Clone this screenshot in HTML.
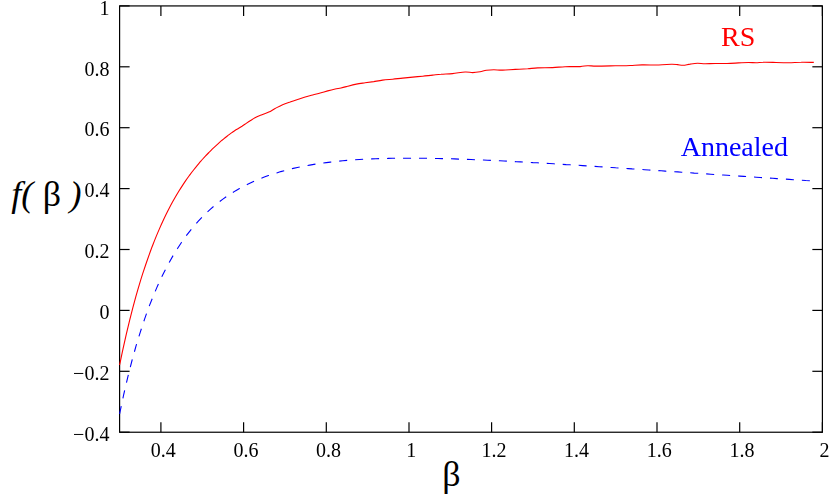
<!DOCTYPE html>
<html><head><meta charset="utf-8"><title>f(beta)</title>
<style>
html,body{margin:0;padding:0;background:#fff;}
body{width:830px;height:497px;overflow:hidden;font-family:"Liberation Serif",serif;}
svg{display:block;}
text{font-family:"Liberation Serif",serif;}
</style></head><body>
<svg width="830" height="497" viewBox="0 0 830 497">
<defs><filter id="id" x="-5%" y="-5%" width="110%" height="110%" color-interpolation-filters="sRGB"><feOffset dx="0" dy="0"/></filter></defs>
<rect x="0" y="0" width="830" height="497" fill="#fff"/>
<g stroke="#000" stroke-width="1.2" fill="none" stroke-linecap="butt">
<rect x="119.6" y="5.93" width="702.8" height="426.3"/>
<line x1="160.9" y1="432.2" x2="160.9" y2="422.2"/>
<line x1="160.9" y1="5.93" x2="160.9" y2="15.93"/>
<line x1="243.6" y1="432.2" x2="243.6" y2="422.2"/>
<line x1="243.6" y1="5.93" x2="243.6" y2="15.93"/>
<line x1="326.3" y1="432.2" x2="326.3" y2="422.2"/>
<line x1="326.3" y1="5.93" x2="326.3" y2="15.93"/>
<line x1="409.0" y1="432.2" x2="409.0" y2="422.2"/>
<line x1="409.0" y1="5.93" x2="409.0" y2="15.93"/>
<line x1="491.6" y1="432.2" x2="491.6" y2="422.2"/>
<line x1="491.6" y1="5.93" x2="491.6" y2="15.93"/>
<line x1="574.3" y1="432.2" x2="574.3" y2="422.2"/>
<line x1="574.3" y1="5.93" x2="574.3" y2="15.93"/>
<line x1="657.0" y1="432.2" x2="657.0" y2="422.2"/>
<line x1="657.0" y1="5.93" x2="657.0" y2="15.93"/>
<line x1="739.7" y1="432.2" x2="739.7" y2="422.2"/>
<line x1="739.7" y1="5.93" x2="739.7" y2="15.93"/>
<line x1="822.4" y1="432.2" x2="822.4" y2="422.2"/>
<line x1="822.4" y1="5.93" x2="822.4" y2="15.93"/>
<line x1="119.6" y1="5.9" x2="129.6" y2="5.9"/>
<line x1="822.35" y1="5.9" x2="812.35" y2="5.9"/>
<line x1="119.6" y1="66.8" x2="129.6" y2="66.8"/>
<line x1="822.35" y1="66.8" x2="812.35" y2="66.8"/>
<line x1="119.6" y1="127.7" x2="129.6" y2="127.7"/>
<line x1="822.35" y1="127.7" x2="812.35" y2="127.7"/>
<line x1="119.6" y1="188.6" x2="129.6" y2="188.6"/>
<line x1="822.35" y1="188.6" x2="812.35" y2="188.6"/>
<line x1="119.6" y1="249.5" x2="129.6" y2="249.5"/>
<line x1="822.35" y1="249.5" x2="812.35" y2="249.5"/>
<line x1="119.6" y1="310.4" x2="129.6" y2="310.4"/>
<line x1="822.35" y1="310.4" x2="812.35" y2="310.4"/>
<line x1="119.6" y1="371.3" x2="129.6" y2="371.3"/>
<line x1="822.35" y1="371.3" x2="812.35" y2="371.3"/>
<line x1="119.6" y1="432.2" x2="129.6" y2="432.2"/>
<line x1="822.35" y1="432.2" x2="812.35" y2="432.2"/>
</g>
<path d="M119.6,365.0 C120.2,362.4 121.8,354.4 122.9,349.3 C124.0,344.3 125.1,339.4 126.2,334.6 C127.3,329.9 128.4,325.3 129.5,320.8 C130.6,316.3 131.7,312.0 132.8,307.8 C133.9,303.7 135.0,299.6 136.1,295.7 C137.2,291.7 138.3,288.0 139.4,284.3 C140.5,280.6 141.6,277.0 142.7,273.6 C143.9,270.1 145.0,266.8 146.1,263.5 C147.2,260.3 148.3,257.2 149.4,254.1 C150.5,251.1 151.6,248.1 152.7,245.3 C153.8,242.4 154.9,239.6 156.0,236.9 C157.1,234.2 158.2,231.6 159.3,229.1 C160.4,226.6 161.5,224.1 162.6,221.8 C163.7,219.4 164.8,217.1 165.9,214.8 C167.0,212.6 168.1,210.4 169.2,208.3 C170.3,206.2 171.4,204.1 172.5,202.1 C173.6,200.1 174.7,198.2 175.8,196.3 C176.9,194.4 178.0,192.6 179.1,190.8 C180.2,189.0 181.3,187.3 182.4,185.6 C183.5,183.9 184.6,182.2 185.7,180.6 C186.8,179.0 187.9,177.5 189.0,176.0 C190.2,174.4 191.3,173.0 192.4,171.5 C193.5,170.1 194.6,168.7 195.7,167.3 C196.8,165.9 197.9,164.6 199.0,163.3 C200.1,162.0 201.2,160.8 202.3,159.5 C203.4,158.3 204.5,157.1 205.6,155.9 C206.7,154.7 207.8,153.6 208.9,152.5 C210.0,151.3 211.1,150.3 212.2,149.2 C213.3,148.1 214.4,147.1 215.5,146.1 C216.6,145.1 217.7,144.1 218.8,143.1 C219.9,142.1 221.0,141.2 222.1,140.2 C223.2,139.3 224.3,138.4 225.4,137.5 C226.5,136.6 227.6,135.8 228.7,134.9 C229.8,134.1 230.9,133.2 232.0,132.5 C233.1,131.7 234.2,130.9 235.3,130.2 C236.4,129.5 237.6,129.0 238.7,128.3 C239.8,127.6 240.9,126.9 242.0,126.2 C243.1,125.4 243.1,125.4 245.3,124.0 C247.4,122.6 252.3,119.3 255.0,117.8 C257.7,116.3 259.0,116.0 261.3,115.0 C263.6,114.0 266.5,113.2 268.8,112.1 C271.1,111.0 272.8,109.7 275.1,108.5 C277.4,107.3 280.1,105.8 282.6,104.7 C285.1,103.6 287.6,102.9 290.1,102.1 C292.6,101.2 295.1,100.4 297.6,99.6 C300.1,98.8 302.7,97.8 305.2,97.0 C307.7,96.2 310.2,95.7 312.7,95.0 C315.2,94.3 317.7,93.7 320.2,93.0 C322.7,92.3 325.2,91.6 327.7,90.9 C330.2,90.2 333.0,89.5 335.2,89.0 C337.4,88.5 338.9,88.5 341.0,88.0 C343.1,87.5 344.9,87.0 347.5,86.3 C350.1,85.6 353.4,84.7 356.3,84.1 C359.2,83.5 362.2,83.2 365.1,82.8 C368.0,82.4 370.9,82.0 373.8,81.6 C376.7,81.1 379.5,80.5 382.6,80.1 C385.7,79.7 389.2,79.5 392.6,79.2 C396.0,78.9 399.4,78.4 402.7,78.1 C406.0,77.8 409.4,77.4 412.7,77.1 C416.0,76.8 419.4,76.5 422.7,76.2 C426.0,75.9 429.6,75.4 432.7,75.1 C435.8,74.8 437.7,74.5 441.0,74.3 C444.3,74.0 448.5,74.0 452.5,73.6 C456.5,73.2 461.8,72.2 465.1,72.0 C468.5,71.8 470.1,72.6 472.6,72.6 C475.1,72.6 477.8,72.2 480.1,71.8 C482.4,71.4 484.1,70.6 486.4,70.3 C488.7,70.0 491.2,69.8 493.9,69.8 C496.6,69.8 499.1,70.2 502.7,70.1 C506.2,70.0 511.0,69.6 515.2,69.4 C519.4,69.2 524.0,69.0 527.7,68.8 C531.5,68.5 533.6,68.1 537.7,67.9 C541.8,67.7 547.9,67.8 552.5,67.6 C557.1,67.4 560.5,66.9 565.1,66.7 C569.7,66.5 576.4,66.8 580.1,66.6 C583.9,66.4 584.9,65.8 587.6,65.7 C590.3,65.6 591.8,66.1 596.4,66.1 C601.0,66.1 609.6,65.9 615.2,65.8 C620.8,65.7 625.7,65.7 630.2,65.5 C634.7,65.3 637.2,65.0 642.0,64.9 C646.8,64.8 653.9,65.1 658.8,65.0 C663.7,64.9 668.2,64.3 671.3,64.2 C674.4,64.1 675.6,64.4 677.6,64.6 C679.6,64.8 681.1,65.4 683.2,65.3 C685.3,65.2 687.7,64.4 690.1,64.1 C692.5,63.7 695.1,63.2 697.6,63.2 C700.1,63.2 702.3,63.8 705.2,63.8 C708.1,63.8 711.6,63.5 715.2,63.5 C718.8,63.5 723.1,63.6 727.0,63.5 C730.9,63.4 734.9,63.1 738.5,62.9 C742.1,62.7 745.7,62.5 748.6,62.5 C751.5,62.5 753.6,62.8 756.1,62.8 C758.6,62.8 760.3,62.3 763.6,62.3 C766.9,62.2 771.9,62.4 776.1,62.5 C780.3,62.6 784.5,62.7 788.7,62.7 C792.9,62.7 797.0,62.3 801.2,62.3 C805.4,62.2 811.7,62.4 813.8,62.4" fill="none" stroke="#ff0000" stroke-width="1.1" stroke-linejoin="round"/>
<path d="M119.6,413.9 L123.7,394.5 L127.9,376.7 L132.0,360.5 L136.1,345.7 L140.3,332.1 L144.4,319.6 L148.5,308.0 L152.7,297.4 L156.8,287.6 L160.9,278.5 L165.1,270.2 L169.2,262.4 L173.3,255.2 L177.5,248.5 L181.6,242.2 L185.7,236.4 L189.9,231.1 L194.0,226.0 L198.1,221.3 L202.3,217.0 L206.4,212.9 L210.5,209.1 L214.7,205.5 L218.8,202.2 L222.9,199.1 L227.1,196.2 L231.2,193.5 L235.3,190.9 L239.5,188.5 L243.6,186.3 L247.7,184.2 L251.9,182.2 L256.0,180.4 L260.2,178.7 L264.3,177.1 L268.4,175.6 L272.6,174.2 L276.7,172.9 L280.8,171.6 L285.0,170.5 L289.1,169.4 L293.2,168.4 L297.4,167.5 L301.5,166.6 L305.6,165.8 L309.8,165.1 L313.9,164.4 L318.0,163.7 L322.2,163.1 L326.3,162.6 L330.4,162.1 L334.6,161.6 L338.7,161.2 L342.8,160.8 L347.0,160.4 L351.1,160.1 L355.2,159.8 L359.4,159.5 L363.5,159.3 L367.6,159.1 L371.8,158.9 L375.9,158.7 L380.0,158.6 L384.2,158.5 L388.3,158.4 L392.4,158.3 L396.6,158.2 L400.7,158.2 L404.8,158.2 L409.0,158.2 L413.1,158.2 L417.2,158.2 L421.4,158.2 L425.5,158.3 L429.6,158.3 L433.8,158.4 L437.9,158.5 L442.0,158.6 L446.2,158.7 L450.3,158.8 L454.4,158.9 L458.6,159.1 L462.7,159.2 L466.8,159.4 L471.0,159.5 L475.1,159.7 L479.2,159.9 L483.4,160.0 L487.5,160.2 L491.6,160.4 L495.8,160.6 L499.9,160.8 L504.0,161.0 L508.2,161.2 L512.3,161.4 L516.4,161.7 L520.6,161.9 L524.7,162.1 L528.8,162.3 L533.0,162.6 L537.1,162.8 L541.3,163.1 L545.4,163.3 L549.5,163.5 L553.7,163.8 L557.8,164.0 L561.9,164.3 L566.1,164.6 L570.2,164.8 L574.3,165.1 L578.5,165.3 L582.6,165.6 L586.7,165.9 L590.9,166.1 L595.0,166.4 L599.1,166.7 L603.3,166.9 L607.4,167.2 L611.5,167.5 L615.7,167.8 L619.8,168.0 L623.9,168.3 L628.1,168.6 L632.2,168.9 L636.3,169.1 L640.5,169.4 L644.6,169.7 L648.7,170.0 L652.9,170.3 L657.0,170.5 L661.1,170.8 L665.3,171.1 L669.4,171.4 L673.5,171.7 L677.7,171.9 L681.8,172.2 L685.9,172.5 L690.1,172.8 L694.2,173.1 L698.3,173.3 L702.5,173.6 L706.6,173.9 L710.7,174.2 L714.9,174.5 L719.0,174.7 L723.1,175.0 L727.3,175.3 L731.4,175.6 L735.5,175.8 L739.7,176.1 L743.8,176.4 L747.9,176.7 L752.1,176.9 L756.2,177.2 L760.3,177.5 L764.5,177.8 L768.6,178.0 L772.7,178.3 L776.9,178.6 L781.0,178.9 L785.1,179.1 L789.3,179.4 L793.4,179.7 L797.5,179.9 L801.7,180.2 L805.8,180.5 L809.9,180.7 L814.1,181.0" fill="none" stroke="#0000ff" stroke-width="1.1" stroke-dasharray="8,7.98" stroke-dashoffset="0"/>
<g font-size="20" fill="#000" filter="url(#id)">
<text x="163.2" y="457.0" text-anchor="middle">0.4</text>
<text x="245.9" y="457.0" text-anchor="middle">0.6</text>
<text x="328.6" y="457.0" text-anchor="middle">0.8</text>
<text x="411.3" y="457.0" text-anchor="middle">1</text>
<text x="493.9" y="457.0" text-anchor="middle">1.2</text>
<text x="576.6" y="457.0" text-anchor="middle">1.4</text>
<text x="659.3" y="457.0" text-anchor="middle">1.6</text>
<text x="742.0" y="457.0" text-anchor="middle">1.8</text>
<text x="824.6" y="457.0" text-anchor="middle">2</text>
<text x="109.4" y="14.6" text-anchor="end">1</text>
<text x="109.4" y="75.5" text-anchor="end">0.8</text>
<text x="109.4" y="136.4" text-anchor="end">0.6</text>
<text x="109.4" y="197.3" text-anchor="end">0.4</text>
<text x="109.4" y="258.2" text-anchor="end">0.2</text>
<text x="109.4" y="319.1" text-anchor="end">0</text>
<text x="109.4" y="380.0" text-anchor="end">−0.2</text>
<text x="109.4" y="440.9" text-anchor="end">−0.4</text>
</g>
<text x="721.1" y="46.3" font-size="28" fill="#ff0000" filter="url(#id)">RS</text>
<text x="680.7" y="155.9" font-size="28" fill="#0000ff" filter="url(#id)">Annealed</text>
<g fill="#000" font-size="36">
<text x="11.33" y="205.95" font-style="italic">f</text>
<text x="21.34" y="205.95" font-style="italic">(</text>
<text x="52" y="205.95" text-anchor="middle">β</text>
<text x="69.5" y="205.95" font-style="italic">)</text>
</g>
<g fill="#000" font-size="36">
<text x="451.3" y="485.6" text-anchor="middle">β</text>
</g>
</svg>
</body></html>
